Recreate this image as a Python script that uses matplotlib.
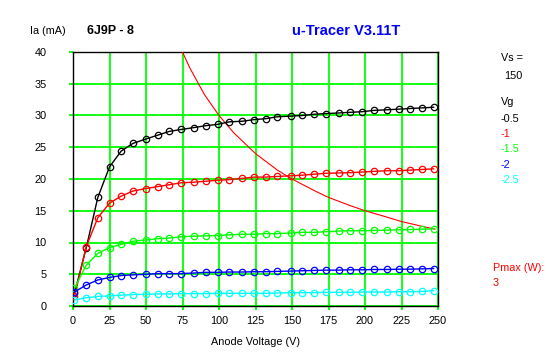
import matplotlib
matplotlib.use("Agg")
import matplotlib.pyplot as plt

# anode voltage sweep (V)
va = [1, 9, 17, 25, 33, 41, 50, 58, 66, 74, 83, 91, 99, 107, 116, 124,
      132, 140, 149, 157, 165, 173, 182, 190, 198, 206, 215, 223, 231, 239, 247]

# anode current (mA) per grid voltage
ia_05 = [2.0, 9.1, 17.1, 21.9, 24.4, 25.6, 26.3, 26.9, 27.5, 27.8, 28.1, 28.4, 28.6, 29.0, 29.1, 29.35,
         29.5, 29.8, 29.9, 30.0, 30.2, 30.3, 30.4, 30.5, 30.6, 30.8, 30.9, 31.0, 31.1, 31.2, 31.3]
ia_10 = [1.5, 9.3, 13.9, 16.2, 17.3, 18.1, 18.5, 18.8, 19.1, 19.4, 19.5, 19.65, 19.8, 19.9, 20.1, 20.3,
         20.3, 20.4, 20.5, 20.6, 20.75, 20.9, 20.95, 21.0, 21.1, 21.2, 21.3, 21.3, 21.4, 21.5, 21.6]
ia_15 = [2.8, 6.4, 8.3, 9.2, 9.7, 10.2, 10.4, 10.6, 10.7, 10.9, 11.0, 11.05, 11.1, 11.2, 11.3, 11.3,
         11.4, 11.4, 11.5, 11.6, 11.6, 11.7, 11.8, 11.85, 11.85, 11.9, 11.95, 12.0, 12.05, 12.1, 12.15]
ia_20 = [2.2, 3.3, 4.1, 4.5, 4.8, 4.9, 5.0, 5.1, 5.1, 5.1, 5.2, 5.3, 5.3, 5.35, 5.35, 5.4,
         5.4, 5.45, 5.5, 5.55, 5.6, 5.65, 5.65, 5.7, 5.7, 5.75, 5.75, 5.8, 5.8, 5.85, 5.9]
ia_25 = [0.95, 1.3, 1.5, 1.6, 1.7, 1.8, 1.85, 1.9, 1.9, 1.95, 1.95, 1.95, 2.0, 2.0, 2.0, 2.0,
         2.0, 2.05, 2.1, 2.1, 2.1, 2.15, 2.15, 2.15, 2.2, 2.2, 2.2, 2.25, 2.25, 2.3, 2.4]

vg_labels = ["-0.5", "-1", "-1.5", "-2", "-2.5"]
colors = ["black", "#ff0000", "#00ff00", "#0000ff", "#00ffff"]

# max dissipation curve (3 W)
p_v = [75, 80, 90, 100, 110, 125, 140, 150, 165, 175, 190, 200, 215, 225, 240, 248]
p_i = [40, 37.5, 33.3, 30, 27.3, 24, 21.4, 20, 18.2, 17.1, 15.8, 15, 14, 13.3, 12.5, 12.1]

xticks = [0, 25, 50, 75, 100, 125, 150, 175, 200, 225, 250]
yticks = [0, 5, 10, 15, 20, 25, 30, 35, 40]

W, H = 547, 357
plt.rcParams['font.family'] = ['Liberation Sans', 'DejaVu Sans']
fs = 7.8

fig = plt.figure(figsize=(W / 100, H / 100), dpi=100)
ax = fig.add_axes([73 / W, 1 - 306 / H, 365 / W, 254 / H])

ax.plot(p_v, p_i, color="#ff0000", lw=0.8, zorder=3)
for ys, c in zip([ia_05, ia_10, ia_15, ia_20, ia_25], colors):
    ax.plot(va, ys, color=c, lw=1.0, marker="o", ms=4.6, mfc="none", mec=c, mew=0.9, zorder=4)

ax.set_xlim(0, 250)
ax.set_ylim(0, 40)
ax.set_xticks(xticks)
ax.set_yticks(yticks)
ax.grid(True, color="#00ff00", lw=1.3)
ax.set_axisbelow(True)
ax.tick_params(axis="both", colors="#00ff00", length=3, width=1.3, labelsize=fs, labelcolor="black")
ax.tick_params(axis="y", pad=16)
ax.tick_params(axis="x", pad=4)
for s in ax.spines.values():
    s.set_color("black")
    s.set_linewidth(1.0)

ax.set_xlabel("Anode Voltage (V)", fontsize=fs, labelpad=8)

def px(x, y, s, **kw):
    fig.text(x / W, 1 - y / H, s, va="center", **kw)

px(30, 31, "Ia (mA)", fontsize=fs)
px(87, 31, "6J9P - 8", fontsize=9, fontweight="bold")
px(292, 31, "u-Tracer V3.11T", fontsize=10.5, fontweight="bold", color="#0000ff")

px(501, 58, "Vs =", fontsize=fs)
px(504, 76, "150", fontsize=fs)
px(501, 102, "Vg", fontsize=fs)
for i, (lab, c) in enumerate(zip(vg_labels, colors)):
    px(501, 119 + i * 15.2, lab, fontsize=fs, color=c)

px(493, 268, "Pmax (W):", fontsize=fs, color="#ff0000")
px(493, 283, "3", fontsize=fs, color="#ff0000")

fig.savefig("out.png", dpi=100)
